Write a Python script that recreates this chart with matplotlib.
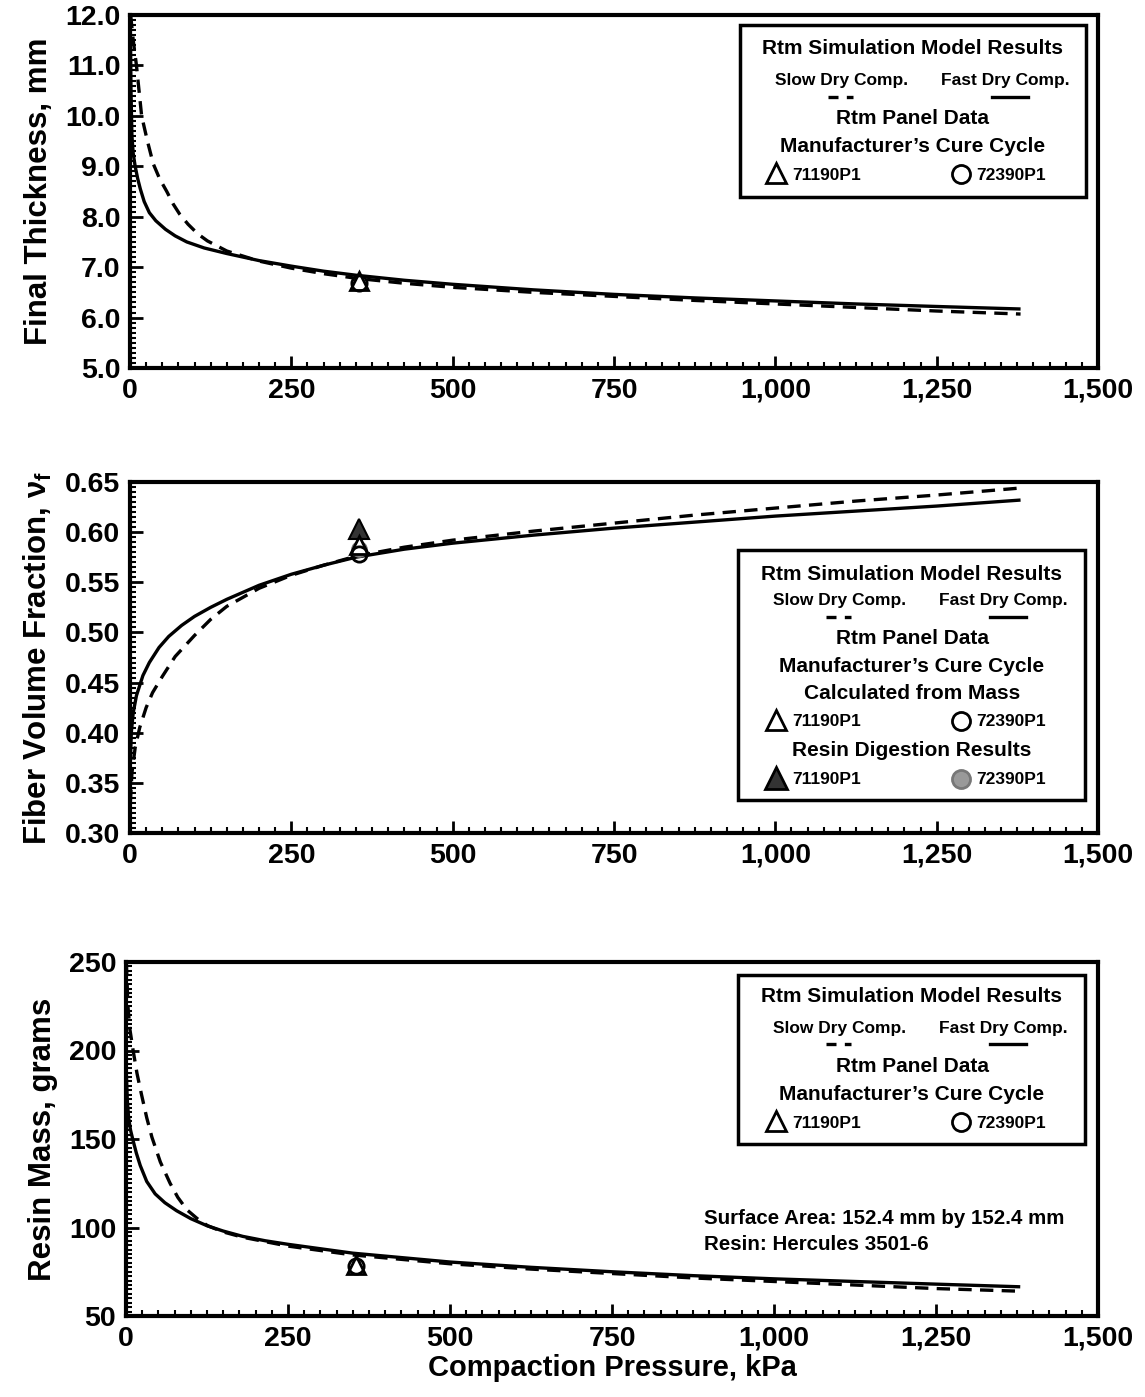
import matplotlib

matplotlib.use("Agg")

import matplotlib.pyplot as plt
from matplotlib.lines import Line2D
from matplotlib.patches import Rectangle
from matplotlib.ticker import MultipleLocator

plt.rcParams["font.family"] = ["Liberation Sans", "DejaVu Sans"]
plt.rcParams["font.weight"] = "bold"
plt.rcParams["axes.labelweight"] = "bold"
plt.rcParams["mathtext.fontset"] = "custom"
plt.rcParams["mathtext.rm"] = "Liberation Sans:bold"
plt.rcParams["mathtext.it"] = "Liberation Sans:bold"

W, H = 1145, 1397

# ------------------------------------------------------------------ data
# compaction pressure (kPa) vs. model output

thick_fast_p = [0.5, 1.5, 3, 5, 8, 12, 16, 22, 30, 40, 55, 70, 88, 115, 150, 200, 250, 300,
                350, 425, 500, 625, 750, 875, 1000, 1125, 1250, 1380]
thick_fast = [11.8, 10.5, 9.6, 9.25, 9.0, 8.75, 8.55, 8.3, 8.08, 7.92, 7.75, 7.62, 7.5, 7.38,
              7.27, 7.13, 7.02, 6.92, 6.84, 6.74, 6.66, 6.55, 6.46, 6.39, 6.33, 6.27, 6.22, 6.17]
thick_slow_p = [1, 5, 10, 14, 18, 27, 36, 46, 57, 67, 77, 90, 105, 120, 150, 200, 250, 300,
                350, 425, 500, 625, 750, 875, 1000, 1125, 1250, 1380]
thick_slow = [12.0, 11.5, 11.0, 10.5, 10.0, 9.5, 9.05, 8.75, 8.5, 8.25, 8.05, 7.85, 7.66, 7.52,
              7.32, 7.12, 6.98, 6.87, 6.78, 6.68, 6.6, 6.5, 6.42, 6.34, 6.27, 6.2, 6.13, 6.07]

vf_fast_p = [0.5, 2, 5, 10, 20, 30, 45, 60, 80, 100, 125, 150, 200, 250, 300, 350, 425, 500,
             625, 750, 875, 1000, 1125, 1250, 1380]
vf_fast = [0.37, 0.40, 0.42, 0.437, 0.457, 0.47, 0.485, 0.496, 0.507, 0.516, 0.525, 0.533,
           0.547, 0.558, 0.567, 0.575, 0.583, 0.589, 0.597, 0.604, 0.61, 0.616, 0.621, 0.626, 0.632]
vf_slow_p = [0.5, 3, 8, 15, 25, 35, 50, 70, 100, 125, 150, 200, 250, 300, 350, 425, 500, 625,
             750, 875, 1000, 1125, 1250, 1380]
vf_slow = [0.33, 0.36, 0.385, 0.405, 0.425, 0.44, 0.456, 0.476, 0.497, 0.513, 0.526, 0.544,
           0.557, 0.567, 0.576, 0.585, 0.592, 0.601, 0.609, 0.617, 0.624, 0.631, 0.637, 0.644]

mass_fast_p = [0.5, 2, 4, 7, 11, 16, 22, 32, 45, 60, 78, 100, 125, 150, 180, 215, 250, 300,
               350, 425, 500, 625, 750, 875, 1000, 1125, 1250, 1380]
mass_fast = [187, 172, 162, 155, 149, 142, 135, 126, 119, 114, 109.5, 105, 101, 98, 95, 92.5,
             90.5, 88, 85.5, 83, 80.5, 77.5, 75, 72.8, 71, 69.5, 68, 66.5]
mass_slow_p = [0.5, 3, 6, 11, 17, 24, 32, 40, 53, 68, 80, 94, 110, 126, 150, 180, 215, 250,
               300, 350, 425, 500, 625, 750, 875, 1000, 1125, 1250, 1380]
mass_slow = [250, 225, 212, 200, 187, 175, 162, 151, 137, 125, 117, 110, 105, 101, 97.5, 94.5,
             92, 89.5, 87, 84.5, 82, 79.5, 76.5, 74, 71.5, 69.5, 67.5, 65.5, 64]

# panel data (71190P1, 72390P1)
panel_p = [355, 355]
panel_thick = [6.72, 6.68]
panel_vf_mass = [0.587, 0.578]
panel_vf_digest = [0.603, 0.583]
panel_mass = [79.0, 78.5]

x_ticks = [0, 250, 500, 750, 1000, 1250, 1500]
x_ticklabels = ["0", "250", "500", "750", "1,000", "1,250", "1,500"]

# ------------------------------------------------------------------ layout helpers

BIG, SMALL, ID = 15, 12.5, 12.5


def fx(px):
    return px / W


def fy(py):
    return 1 - py / H


def make_axes(fig, left, top, right, bottom):
    return fig.add_axes([fx(left), fy(bottom), fx(right) - fx(left), fy(top) - fy(bottom)])


def style(ax, ylim, ymajor, yminor, yfmt):
    ax.set_xlim(0, 1500)
    ax.set_ylim(*ylim)
    ax.set_xticks(x_ticks)
    ax.set_xticklabels(x_ticklabels)
    ax.xaxis.set_minor_locator(MultipleLocator(25))
    ax.yaxis.set_major_locator(MultipleLocator(ymajor))
    ax.yaxis.set_minor_locator(MultipleLocator(yminor))
    ax.yaxis.set_major_formatter(yfmt)
    ax.tick_params(which="major", direction="in", length=9, width=2, labelsize=20.5, pad=7)
    ax.tick_params(which="minor", direction="in", length=4, width=1.5)
    for s in ax.spines.values():
        s.set_linewidth(3)


def curves(ax, fp, fv, sp, sv):
    ax.plot(fp, fv, color="black", lw=2.4, solid_capstyle="butt")
    ax.plot(sp, sv, color="black", lw=2.4, dashes=(4, 2.5))


def txt(fig, x, y, s, size=BIG, ha="center"):
    fig.text(fx(x), fy(y), s, ha=ha, va="center", fontsize=size, fontweight="bold")


def mark(fig, x, y, marker, fc="white", ec="black", ms=15):
    fig.add_artist(Line2D([fx(x)], [fy(y)], marker=marker, ms=ms, mfc=fc, mec=ec,
                          mew=2, transform=fig.transFigure))


def sample(fig, x0, x1, y, dashed):
    ln = Line2D([fx(x0), fx(x1)], [fy(y), fy(y)], color="black", lw=2.4,
                transform=fig.transFigure)
    if dashed:
        ln.set_dashes((3, 2.5))
    fig.add_artist(ln)


def box(fig, x0, y0, x1, y1):
    fig.add_artist(Rectangle((fx(x0), fy(y1)), fx(x1) - fx(x0), fy(y0) - fy(y1),
                             fill=False, lw=2.5, ec="black", transform=fig.transFigure))


def model_block(fig, x0, x1, y_title, y_names, y_line):
    cx = (x0 + x1) / 2
    txt(fig, cx, y_title, "Rtm Simulation Model Results")
    txt(fig, x0 + 102, y_names, "Slow Dry Comp.", SMALL)
    txt(fig, x0 + 265, y_names, "Fast Dry Comp.", SMALL)
    sample(fig, x0 + 88, x0 + 113, y_line, True)
    sample(fig, x0 + 252, x0 + 288, y_line, False)


def id_row(fig, y, filled=False):
    if filled:
        mark(fig, 776, y - 2, "^", fc="#333333", ms=16)
        mark(fig, 961, y - 1, "o", fc="#999999", ec="#777777", ms=13)
    else:
        mark(fig, 776, y - 2, "^")
        mark(fig, 961, y - 1, "o", ms=13)
    txt(fig, 792, y, "71190P1", ID, "left")
    txt(fig, 976, y, "72390P1", ID, "left")


# ------------------------------------------------------------------ figure

fig = plt.figure(figsize=(W / 100, H / 100), dpi=100)

# --- final thickness
ax1 = make_axes(fig, 130, 15, 1098, 368)
curves(ax1, thick_fast_p, thick_fast, thick_slow_p, thick_slow)
ax1.plot(panel_p[:1], panel_thick[:1], ls="none", marker="^", ms=13, mfc="white", mec="black", mew=2)
ax1.plot(panel_p[1:], panel_thick[1:], ls="none", marker="o", ms=11, mfc="none", mec="black", mew=2)
style(ax1, (5, 12), 1, 0.1, "{x:.1f}")
ax1.set_ylabel("Final Thickness, mm", fontsize=22.5, labelpad=8)

box(fig, 740, 25, 1086, 197)
model_block(fig, 740, 1086, 48, 80, 97)
txt(fig, 913, 119, "Rtm Panel Data")
txt(fig, 913, 146, "Manufacturer\u2019s Cure Cycle")
id_row(fig, 175)

# --- fiber volume fraction
ax2 = make_axes(fig, 130, 482, 1098, 833)
curves(ax2, vf_fast_p, vf_fast, vf_slow_p, vf_slow)
ax2.plot(panel_p[:1], panel_vf_digest[:1], ls="none", marker="^", ms=14, mfc="#333333", mec="black", mew=1.5)
ax2.plot(panel_p[1:], panel_vf_digest[1:], ls="none", marker="o", ms=11, mfc="#999999", mec="#777777", mew=1)
ax2.plot(panel_p[:1], panel_vf_mass[:1], ls="none", marker="^", ms=13, mfc="white", mec="black", mew=2)
ax2.plot(panel_p[1:], panel_vf_mass[1:], ls="none", marker="o", ms=11, mfc="none", mec="black", mew=2)
style(ax2, (0.30, 0.65), 0.05, 0.005, "{x:.2f}")
ax2.set_ylabel("Fiber Volume Fraction, $\\nu_{f}$", fontsize=22.5, labelpad=8)

box(fig, 738, 550, 1085, 800)
model_block(fig, 738, 1085, 575, 601, 617)
txt(fig, 912, 638, "Rtm Panel Data")
txt(fig, 912, 666, "Manufacturer\u2019s Cure Cycle")
txt(fig, 912, 694, "Calculated from Mass")
id_row(fig, 722)
txt(fig, 912, 750, "Resin Digestion Results")
id_row(fig, 780, filled=True)

# --- resin mass
ax3 = make_axes(fig, 126, 962, 1098, 1316)
curves(ax3, mass_fast_p, mass_fast, mass_slow_p, mass_slow)
ax3.plot(panel_p[:1], panel_mass[:1], ls="none", marker="^", ms=13, mfc="white", mec="black", mew=2)
ax3.plot(panel_p[1:], panel_mass[1:], ls="none", marker="o", ms=11, mfc="none", mec="black", mew=2)
style(ax3, (50, 250), 50, 2.5, "{x:.0f}")
ax3.set_ylabel("Resin Mass, grams", fontsize=22.5, labelpad=8)
ax3.set_xlabel("Compaction Pressure, kPa", fontsize=21, labelpad=2)

box(fig, 738, 975, 1085, 1144)
model_block(fig, 738, 1085, 997, 1028, 1044)
txt(fig, 912, 1067, "Rtm Panel Data")
txt(fig, 912, 1095, "Manufacturer\u2019s Cure Cycle")
id_row(fig, 1123)

txt(fig, 704, 1219, "Surface Area: 152.4 mm by 152.4 mm", 14.8, "left")
txt(fig, 704, 1245, "Resin: Hercules 3501-6", 14.8, "left")

fig.savefig("out.png", dpi=100)
